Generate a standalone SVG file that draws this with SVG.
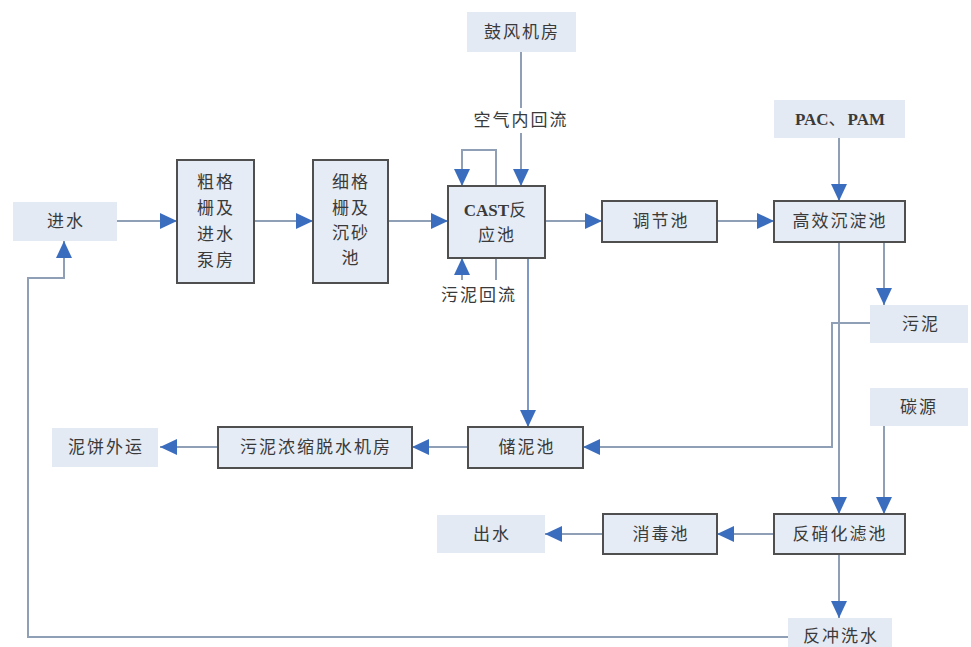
<svg xmlns="http://www.w3.org/2000/svg" width="971" height="647" viewBox="0 0 971 647">
<defs>
<marker id="ah" markerUnits="userSpaceOnUse" markerWidth="17" markerHeight="16" refX="17" refY="8" orient="auto">
<path d="M0,0 L17,8 L0,16 z" fill="#3b6dbf"/>
</marker>
<style>
.box{fill:#e6ecf5;stroke:#4f4f4f;stroke-width:2}
.lt{fill:#e4eaf4;stroke:none}
.t{font-family:"Liberation Serif","Noto Sans CJK SC",serif;font-size:17px;fill:#3a3a3a;text-anchor:middle;dominant-baseline:central;letter-spacing:2px}
.lat{letter-spacing:0;font-weight:bold}
.c{fill:none;stroke:#8e9fb6;stroke-width:2}
.b{stroke:#7d9ac6}
</style>
</defs>
<rect width="971" height="647" fill="#ffffff"/>
<g id="connectors">
<path class="c" d="M117,221 H177" marker-end="url(#ah)"/>
<path class="c" d="M254,221 H313" marker-end="url(#ah)"/>
<path class="c" d="M388,221 H448" marker-end="url(#ah)"/>
<path class="c" d="M545,221 H602" marker-end="url(#ah)"/>
<path class="c" d="M717,221 H774" marker-end="url(#ah)"/>
<path class="c" d="M839,138 V201" marker-end="url(#ah)"/>
<path class="c" d="M521,52 V108"/>
<path class="c" d="M521,133 V186" marker-end="url(#ah)"/>
<path class="c" d="M496,186 V150 H462 V186" marker-end="url(#ah)"/>
<path class="c" d="M496,258 V280"/>
<path class="c" d="M462,280 V258" marker-end="url(#ah)"/>
<path class="c b" d="M528,258 V427" marker-end="url(#ah)"/>
<path class="c" d="M884,242 V305" marker-end="url(#ah)"/>
<path class="c" d="M870,323 H832 V447 H583" marker-end="url(#ah)"/>
<path class="c" d="M839,242 V514" marker-end="url(#ah)"/>
<path class="c" d="M884,426 V514" marker-end="url(#ah)"/>
<path class="c" d="M468,447 H412" marker-end="url(#ah)"/>
<path class="c" d="M218,447 H160" marker-end="url(#ah)"/>
<path class="c" d="M774,534 H717" marker-end="url(#ah)"/>
<path class="c" d="M603,534 H545" marker-end="url(#ah)"/>
<path class="c" d="M839,554 V618" marker-end="url(#ah)"/>
<path class="c" d="M788,637 H28 V278 H64 V241" marker-end="url(#ah)"/>
</g>
<g id="n-jinshui"><rect class="lt" x="13" y="202" width="104" height="39"/><text class="t" x="66" y="221">进水</text></g>
<g id="n-cugeshan"><rect class="box" x="177" y="160" width="77" height="123"/>
<text class="t" x="216" y="182">粗格</text><text class="t" x="216" y="208">栅及</text><text class="t" x="216" y="234">进水</text><text class="t" x="216" y="260">泵房</text></g>
<g id="n-xigeshan"><rect class="box" x="313" y="160" width="75" height="123"/>
<text class="t" x="351" y="182">细格</text><text class="t" x="351" y="208">栅及</text><text class="t" x="351" y="233">沉砂</text><text class="t" x="351" y="258">池</text></g>
<g id="n-cast"><rect class="box" x="448" y="186" width="97" height="72"/>
<text class="t" x="496" y="210"><tspan class="lat">CAST</tspan>反</text><text class="t" x="497" y="235">应池</text></g>
<g id="n-gufeng"><rect class="lt" x="467" y="12" width="109" height="40"/><text class="t" x="522" y="32">鼓风机房</text></g>
<g id="l-kongqi"><text class="t" x="521" y="120">空气内回流</text></g>
<g id="l-wunihuiliu"><text class="t" x="479" y="295">污泥回流</text></g>
<g id="n-tiaojie"><rect class="box" x="602" y="201" width="115" height="41"/><text class="t" x="661" y="221">调节池</text></g>
<g id="n-gaoxiao"><rect class="box" x="774" y="201" width="131" height="41"/><text class="t" x="840" y="221">高效沉淀池</text></g>
<g id="n-pac"><rect class="lt" x="774" y="100" width="131" height="38"/><text class="t" x="840" y="119"><tspan class="lat">PAC</tspan>、<tspan class="lat">PAM</tspan></text></g>
<g id="n-wuni"><rect class="lt" x="870" y="305" width="98" height="38"/><text class="t" x="921" y="324">污泥</text></g>
<g id="n-tanyuan"><rect class="lt" x="870" y="388" width="98" height="38"/><text class="t" x="919" y="407">碳源</text></g>
<g id="n-chuni"><rect class="box" x="468" y="427" width="115" height="41"/><text class="t" x="527" y="447">储泥池</text></g>
<g id="n-nongsuo"><rect class="box" x="218" y="427" width="194" height="41"/><text class="t" x="316" y="447">污泥浓缩脱水机房</text></g>
<g id="n-nibing"><rect class="lt" x="52" y="428" width="106" height="39"/><text class="t" x="106" y="447">泥饼外运</text></g>
<g id="n-fanxiaohua"><rect class="box" x="774" y="514" width="131" height="40"/><text class="t" x="840" y="534">反硝化滤池</text></g>
<g id="n-xiaodu"><rect class="box" x="603" y="514" width="114" height="40"/><text class="t" x="661" y="534">消毒池</text></g>
<g id="n-chushui"><rect class="lt" x="437" y="515" width="108" height="38"/><text class="t" x="492" y="534">出水</text></g>
<g id="n-fanchong"><rect class="lt" x="788" y="618" width="104" height="29"/><text class="t" x="841" y="636">反冲洗水</text></g>
</svg>
